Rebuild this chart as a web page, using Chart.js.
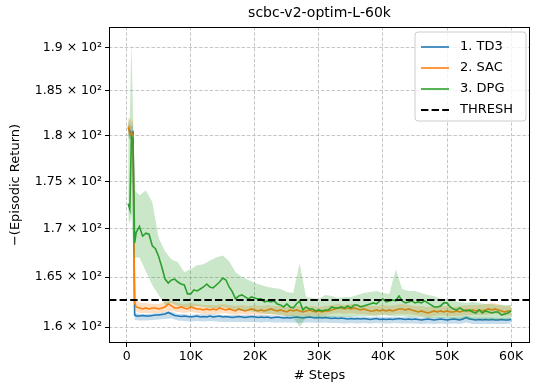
<!DOCTYPE html>
<html><head><meta charset="utf-8">
<script src="https://cdn.jsdelivr.net/npm/chart.js@4.4.0/dist/chart.umd.min.js"></script>
<style>html,body{margin:0;padding:0;background:#fff}canvas{display:block}</style>
</head><body>
<canvas id="c" width="540" height="392"></canvas>
<script>
const chartTitle = 'scbc-v2-optim-L-60k';
const xLabel = '# Steps';
const yLabel = '\u2212(Episodic Return)';
const seriesNames = ['1. TD3', '2. SAC', '3. DPG'];
const threshName = 'THRESH';
const threshold = 162.7;

const xTicks = [0, 10000, 20000, 30000, 40000, 50000, 60000];
const xTickLabels = ['0', '10K', '20K', '30K', '40K', '50K', '60K'];
const yTicks = [160, 165, 170, 175, 180, 185, 190];
const yTickLabels = ['1.6 \u00d7 10\u00b2', '1.65 \u00d7 10\u00b2', '1.7 \u00d7 10\u00b2', '1.75 \u00d7 10\u00b2', '1.8 \u00d7 10\u00b2', '1.85 \u00d7 10\u00b2', '1.9 \u00d7 10\u00b2'];

// steps (thousands) for mean curves
const stepsK = [0.25, 0.5, 0.75, 1, 1.25, 1.5,
  2, 2.5, 3, 3.5, 4, 4.5, 5, 5.5, 6, 6.5, 7, 7.5, 8, 8.5, 9, 9.5,
  10, 10.5, 11, 11.5, 12, 12.5, 13, 13.5, 14, 14.5, 15, 15.5, 16, 16.5, 17, 17.5, 18, 18.5, 19, 19.5,
  20, 20.5, 21, 21.5, 22, 22.5, 23, 23.5, 24, 24.5, 25, 25.5, 26, 26.5, 27, 27.5, 28, 28.5, 29, 29.5,
  30, 30.5, 31, 31.5, 32, 32.5, 33, 33.5, 34, 34.5, 35, 35.5, 36, 36.5, 37, 37.5, 38, 38.5, 39, 39.5,
  40, 40.5, 41, 41.5, 42, 42.5, 43, 43.5, 44, 44.5, 45, 45.5, 46, 46.5, 47, 47.5, 48, 48.5, 49, 49.5,
  50, 50.5, 51, 51.5, 52, 52.5, 53, 53.5, 54, 54.5, 55, 55.5, 56, 56.5, 57, 57.5, 58, 58.5, 59, 59.5, 60];

const td3Mean = [180.8, 180.5, 180.3, 180.4, 161.2, 161.1,
  161.1, 161.15, 161.1, 161.1, 161.15, 161.2, 161.2, 161.25, 161.3, 161.45, 161.3, 161.15, 161.1, 161.05, 161.1, 161.05,
  161.0, 161.05, 161.1, 161.0, 161.05, 161.0, 161.1, 161.0, 161.05, 161.1, 161.0, 161.05, 161.0, 160.95, 161.0, 161.05, 161.0, 160.95, 161.0, 161.05,
  161.0, 160.95, 161.0, 160.95, 161.0, 160.9, 160.95, 161.0, 160.95, 160.9, 160.95, 160.9, 160.95, 161.0, 160.95, 160.9, 160.95, 161.0, 160.95, 160.9,
  160.95, 160.9, 160.95, 160.9, 160.85, 160.9, 160.85, 160.9, 160.85, 160.8, 160.85, 160.8, 160.85, 160.8, 160.85, 160.8, 160.75, 160.8, 160.85, 160.75,
  160.8, 160.75, 160.8, 160.75, 160.8, 160.85, 160.8, 160.75, 160.8, 160.75, 160.8, 160.75, 160.7, 160.75, 160.8, 160.75, 160.7, 160.75, 160.8, 160.75,
  160.7, 160.75, 160.8, 160.75, 160.7, 160.8, 160.95, 160.8, 160.75, 160.7, 160.75, 160.7, 160.75, 160.7, 160.75, 160.7, 160.7, 160.75, 160.7, 160.7, 160.75];

const sacMean = [181.0, 180.1, 180.3, 180.0, 162.4, 162.0,
  161.9, 161.8, 161.9, 161.8, 161.9, 161.9, 161.8, 161.9, 162.0, 162.3, 162.1, 161.9, 161.9, 162.0, 161.9, 161.8,
  162.0, 161.9, 161.8, 161.8, 161.7, 161.8, 161.7, 161.8, 161.7, 161.9, 161.8, 161.7, 161.8, 161.7, 161.6, 161.8, 161.7, 161.6, 161.7, 161.8,
  161.7, 161.6, 161.7, 161.6, 161.7, 161.8, 161.7, 161.6, 161.7, 161.6, 161.5, 161.7, 161.6, 161.7, 161.6, 161.5, 161.6, 161.7, 161.6, 161.5,
  161.6, 161.5, 161.6, 161.6, 161.7, 161.8, 161.9, 161.9, 161.8, 161.9, 161.8, 161.9, 161.8, 161.7, 161.8, 161.7, 161.6, 161.6, 161.7, 161.6,
  161.7, 161.6, 161.7, 161.6, 161.7, 161.8, 161.8, 161.7, 161.8, 161.7, 161.6, 161.5, 161.6, 161.5, 161.4, 161.5, 161.6, 161.5, 161.6, 161.5,
  161.6, 161.5, 161.5, 161.6, 161.5, 161.6, 161.7, 161.6, 161.7, 161.6, 161.7, 161.6, 161.7, 161.8, 161.7, 161.8, 161.7, 161.6, 161.5, 161.6, 161.6];

const dpgMean = [172.6, 172.0, 179.9, 179.6, 168.5, 169.6,
  170.2, 169.2, 169.5, 169.4, 168.2, 167.9, 167.1, 166.0, 164.8, 164.4, 164.7, 164.8, 164.5, 164.3, 164.2, 163.3,
  163.3, 163.7, 163.6, 163.8, 164.0, 164.3, 164.0, 163.9, 164.2, 164.5, 164.9, 164.7, 164.0, 163.5, 162.8, 163.1, 163.2, 163.0, 162.8, 163.0,
  162.9, 162.8, 162.8, 162.5, 162.6, 162.5, 162.6, 162.3, 162.2, 162.0, 162.3, 162.0, 161.9, 162.3, 162.6, 161.7, 162.0, 161.8, 161.8, 161.6,
  161.7, 161.6, 161.7, 161.7, 162.0, 161.9, 161.9, 162.0, 161.9, 162.1, 161.9, 162.2, 162.2, 162.0, 162.1, 162.2, 162.3, 162.4, 162.3, 162.6,
  162.8, 162.5, 162.6, 162.7, 162.6, 163.1, 162.6, 162.4, 162.5, 162.6, 162.4, 162.5, 162.4, 162.6, 162.4, 162.2, 162.0, 162.0, 162.1, 162.4,
  162.4, 162.0, 161.8, 161.7, 161.9, 161.7, 161.6, 161.7, 161.5, 161.4, 161.7, 161.4, 161.6, 161.5, 161.4, 161.5, 161.5, 161.2, 161.3, 161.4, 161.6];

// steps (thousands) for the shaded spread bands
const bandStepsK = [0.25, 0.5, 0.75, 1, 1.25,
  2, 3, 4, 5, 6, 7, 8, 9, 10, 11, 12, 13, 14, 15, 16, 17, 18, 19, 20,
  21, 22, 23, 24, 25, 26, 27, 28, 29, 30, 31, 32, 33, 34, 35, 36, 37, 38, 39, 40,
  41, 42, 43, 44, 45, 46, 47, 48, 49, 50, 51, 52, 53, 54, 55, 56, 57, 58, 59, 60];

const td3Upper = [181.5, 181.2, 181.0, 181.2, 161.45,
  161.3, 161.3, 161.35, 161.4, 161.5, 161.55, 161.3, 161.3, 161.2, 161.3, 161.25, 161.3, 161.25, 161.2, 161.2, 161.2, 161.2, 161.2, 161.2,
  161.2, 161.2, 161.15, 161.15, 161.15, 161.2, 161.15, 161.15, 161.15, 161.15, 161.15, 161.1, 161.05, 161.05, 161.05, 161.05, 161.05, 161.0, 161.05, 161.0,
  161.0, 161.05, 161.0, 161.0, 161.0, 160.95, 161.0, 160.95, 161.0, 160.95, 161.0, 160.95, 161.15, 160.95, 160.95, 160.95, 160.95, 160.9, 160.9, 160.95];
const td3Lower = [179.8, 179.6, 179.5, 179.6, 160.7,
  160.65, 160.65, 160.7, 160.75, 160.8, 160.85, 160.65, 160.6, 160.55, 160.6, 160.55, 160.6, 160.55, 160.5, 160.5, 160.5, 160.5, 160.5, 160.5,
  160.45, 160.5, 160.45, 160.45, 160.45, 160.45, 160.4, 160.45, 160.45, 160.4, 160.45, 160.4, 160.4, 160.35, 160.4, 160.35, 160.4, 160.35, 160.4, 160.35,
  160.35, 160.4, 160.35, 160.35, 160.35, 160.3, 160.35, 160.3, 160.35, 160.3, 160.35, 160.3, 160.45, 160.3, 160.3, 160.3, 160.3, 160.3, 160.3, 160.35];

const sacUpper = [182.0, 181.8, 181.5, 181.8, 163.0,
  162.4, 162.4, 162.3, 162.3, 162.5, 162.6, 162.4, 162.3, 162.4, 162.3, 162.2, 162.2, 162.2, 162.3, 162.2, 162.1, 162.2, 162.1, 162.2,
  162.1, 162.2, 162.1, 162.1, 162.0, 162.1, 162.1, 162.0, 162.1, 162.0, 162.1, 162.2, 162.3, 162.2, 162.3, 162.2, 162.2, 162.1, 162.1, 162.2,
  162.1, 162.2, 162.3, 162.2, 162.1, 162.1, 162.0, 162.1, 162.1, 162.1, 162.0, 162.1, 162.2, 162.2, 162.2, 162.3, 162.4, 162.3, 162.1, 162.1];
const sacLower = [180.0, 179.5, 179.6, 179.6, 161.6,
  161.4, 161.4, 161.4, 161.4, 161.5, 161.6, 161.5, 161.4, 161.5, 161.4, 161.3, 161.3, 161.3, 161.4, 161.3, 161.2, 161.3, 161.2, 161.3,
  161.2, 161.3, 161.2, 161.2, 161.1, 161.2, 161.2, 161.1, 161.2, 161.1, 161.2, 161.3, 161.4, 161.3, 161.4, 161.3, 161.3, 161.2, 161.2, 161.3,
  161.2, 161.3, 161.3, 161.3, 161.2, 161.1, 161.0, 161.1, 161.2, 161.1, 161.1, 161.1, 161.2, 161.2, 161.2, 161.2, 161.3, 161.3, 161.1, 161.2];

const dpgUpper = [181.5, 182.0, 190.8, 182.0, 174.0,
  173.5, 174.0, 172.8, 169.0, 167.6, 166.8, 166.5, 165.5, 165.8, 166.2, 166.3, 166.7, 167.0, 167.2, 166.6, 165.5, 165.0, 164.7, 164.4,
  164.2, 164.0, 163.9, 163.8, 163.5, 163.4, 166.4, 163.0, 162.9, 162.8, 163.2, 163.1, 162.9, 163.0, 163.0, 163.2, 163.4, 163.5, 163.6, 163.4,
  163.3, 165.8, 163.8, 163.6, 163.6, 163.4, 163.2, 163.1, 162.8, 162.8, 162.6, 162.5, 162.4, 162.5, 162.4, 162.3, 162.3, 162.2, 162.2, 162.2];
const dpgLower = [171.0, 170.5, 171.5, 168.0, 167.0,
  167.0, 165.6, 164.2, 163.2, 162.2, 162.4, 162.1, 162.0, 162.0, 162.1, 162.0, 161.9, 161.9, 162.0, 161.8, 161.7, 161.6, 161.6, 161.5,
  161.4, 161.3, 161.3, 161.2, 161.1, 161.0, 160.0, 161.0, 160.9, 160.9, 160.9, 161.0, 161.0, 161.0, 161.0, 161.1, 161.1, 161.1, 161.1, 161.2,
  161.1, 161.1, 161.1, 161.0, 161.0, 161.0, 160.9, 160.9, 160.9, 160.9, 160.8, 160.8, 160.8, 160.7, 160.8, 160.7, 160.7, 160.7, 160.7, 160.8];

const xMin = -2750, xMax = 62950;
const yMin = 158.45, yMax = 192.4;
const colors = ['#1f77b4', '#ff7f0e', '#2ca02c'];
const bandColors = ['rgba(31,119,180,0.25)', 'rgba(255,127,14,0.25)', 'rgba(44,160,44,0.25)'];

const pts = (xs, ys) => xs.map((s, i) => ({x: s * 1000, y: ys[i]}));
const means = [td3Mean, sacMean, dpgMean];
const uppers = [td3Upper, sacUpper, dpgUpper];
const lowers = [td3Lower, sacLower, dpgLower];

const datasets = [{
  label: threshName, legend: true,
  data: [{x: xMin, y: threshold}, {x: xMax, y: threshold}],
  borderColor: '#000', borderWidth: 2, borderDash: [7.4, 3.2], pointRadius: 0, fill: false, order: 0
}];
for (let k = 2; k >= 0; k--) {
  const base = (2 - k) * 3 + 1;
  datasets.push({label: seriesNames[k], legend: true, data: pts(stepsK, means[k]), borderColor: colors[k], borderWidth: 1.6,
    pointRadius: 0, fill: false, order: base});
  datasets.push({label: seriesNames[k] + ' hi', data: pts(bandStepsK, uppers[k]), borderWidth: 0, borderColor: 'rgba(0,0,0,0)',
    pointRadius: 0, fill: false, order: base + 1});
  datasets.push({label: seriesNames[k] + ' lo', data: pts(bandStepsK, lowers[k]), borderWidth: 0, borderColor: 'rgba(0,0,0,0)',
    backgroundColor: bandColors[k], pointRadius: 0, fill: '-1', order: base + 2});
}

const font = 'DejaVu Sans';
const framePlugin = {
  id: 'frame',
  afterDraw(chart) {
    const {ctx, chartArea: a} = chart;
    ctx.save();
    ctx.strokeStyle = '#000'; ctx.lineWidth = 1;
    ctx.strokeRect(Math.round(a.left) + 0.5, Math.round(a.top) + 0.5, Math.round(a.right - a.left) - 1, Math.round(a.bottom - a.top) - 1);
    // legend
    const items = [seriesNames[0], seriesNames[1], seriesNames[2], threshName].map(n => chart.data.datasets.find(d => d.label === n));
    const bx = 415, by = 32, bw = 111, bh = 89, r = 3;
    ctx.beginPath();
    ctx.moveTo(bx + r, by); ctx.lineTo(bx + bw - r, by); ctx.arcTo(bx + bw, by, bx + bw, by + r, r);
    ctx.lineTo(bx + bw, by + bh - r); ctx.arcTo(bx + bw, by + bh, bx + bw - r, by + bh, r);
    ctx.lineTo(bx + r, by + bh); ctx.arcTo(bx, by + bh, bx, by + bh - r, r);
    ctx.lineTo(bx, by + r); ctx.arcTo(bx, by, bx + r, by, r); ctx.closePath();
    ctx.fillStyle = 'rgba(255,255,255,0.8)'; ctx.fill();
    ctx.strokeStyle = '#cccccc'; ctx.lineWidth = 1; ctx.stroke();
    ctx.font = '13px "' + font + '"'; ctx.textBaseline = 'middle'; ctx.textAlign = 'left';
    items.forEach((d, i) => {
      const y = 47 + i * 21;
      ctx.beginPath(); ctx.setLineDash(d.borderDash || []);
      ctx.strokeStyle = d.borderColor; ctx.lineWidth = d.borderWidth;
      ctx.moveTo(421, y); ctx.lineTo(449, y); ctx.stroke();
      ctx.setLineDash([]);
      ctx.fillStyle = '#000'; ctx.fillText(d.label, 460, y);
    });
    ctx.restore();
  }
};

new Chart(document.getElementById('c'), {
  type: 'line',
  data: {datasets},
  options: {
    responsive: false, animation: false, devicePixelRatio: 1,
    layout: {padding: {left: 0, right: 10, top: 0, bottom: 0}},
    plugins: {
      legend: {display: false}, tooltip: {enabled: false},
      title: {display: true, text: chartTitle, fullSize: false, color: '#000',
        font: {family: font, size: 14, weight: 'normal'}, padding: {top: 5, bottom: 5.2}}
    },
    scales: {
      x: {
        type: 'linear', min: xMin, max: xMax, bounds: 'data',
        afterBuildTicks: s => { s.ticks = xTicks.map(v => ({value: v})); },
        afterFit: s => { s.height = 49; },
        ticks: {callback: (v, i) => xTickLabels[i], color: '#000', font: {family: font, size: 12.5}, padding: 2, maxRotation: 0, autoSkip: false},
        grid: {color: '#b8b8b8', lineWidth: 0.8, tickColor: '#000', tickLength: 4, tickWidth: 1, tickBorderDash: []},
        border: {display: false, dash: [3.5, 1.8]},
        title: {display: true, text: xLabel, color: '#000', font: {family: font, size: 13}, padding: {top: 0, bottom: 9}}
      },
      y: {
        type: 'logarithmic', min: yMin, max: yMax, bounds: 'data',
        afterBuildTicks: s => { s.ticks = yTicks.map(v => ({value: v})); },
        afterFit: s => { s.width = 109; },
        ticks: {callback: (v, i) => yTickLabels[i], color: '#000', font: {family: font, size: 12.5}, padding: 3, autoSkip: false},
        grid: {color: '#b8b8b8', lineWidth: 0.8, tickColor: '#000', tickLength: 4, tickWidth: 1, tickBorderDash: []},
        border: {display: false, dash: [3.5, 1.8]},
        title: {display: true, text: yLabel, color: '#000', font: {family: font, size: 13}, padding: {top: 8, bottom: 0}}
      }
    },
    elements: {line: {tension: 0}}
  },
  plugins: [framePlugin]
});
</script></body></html>
